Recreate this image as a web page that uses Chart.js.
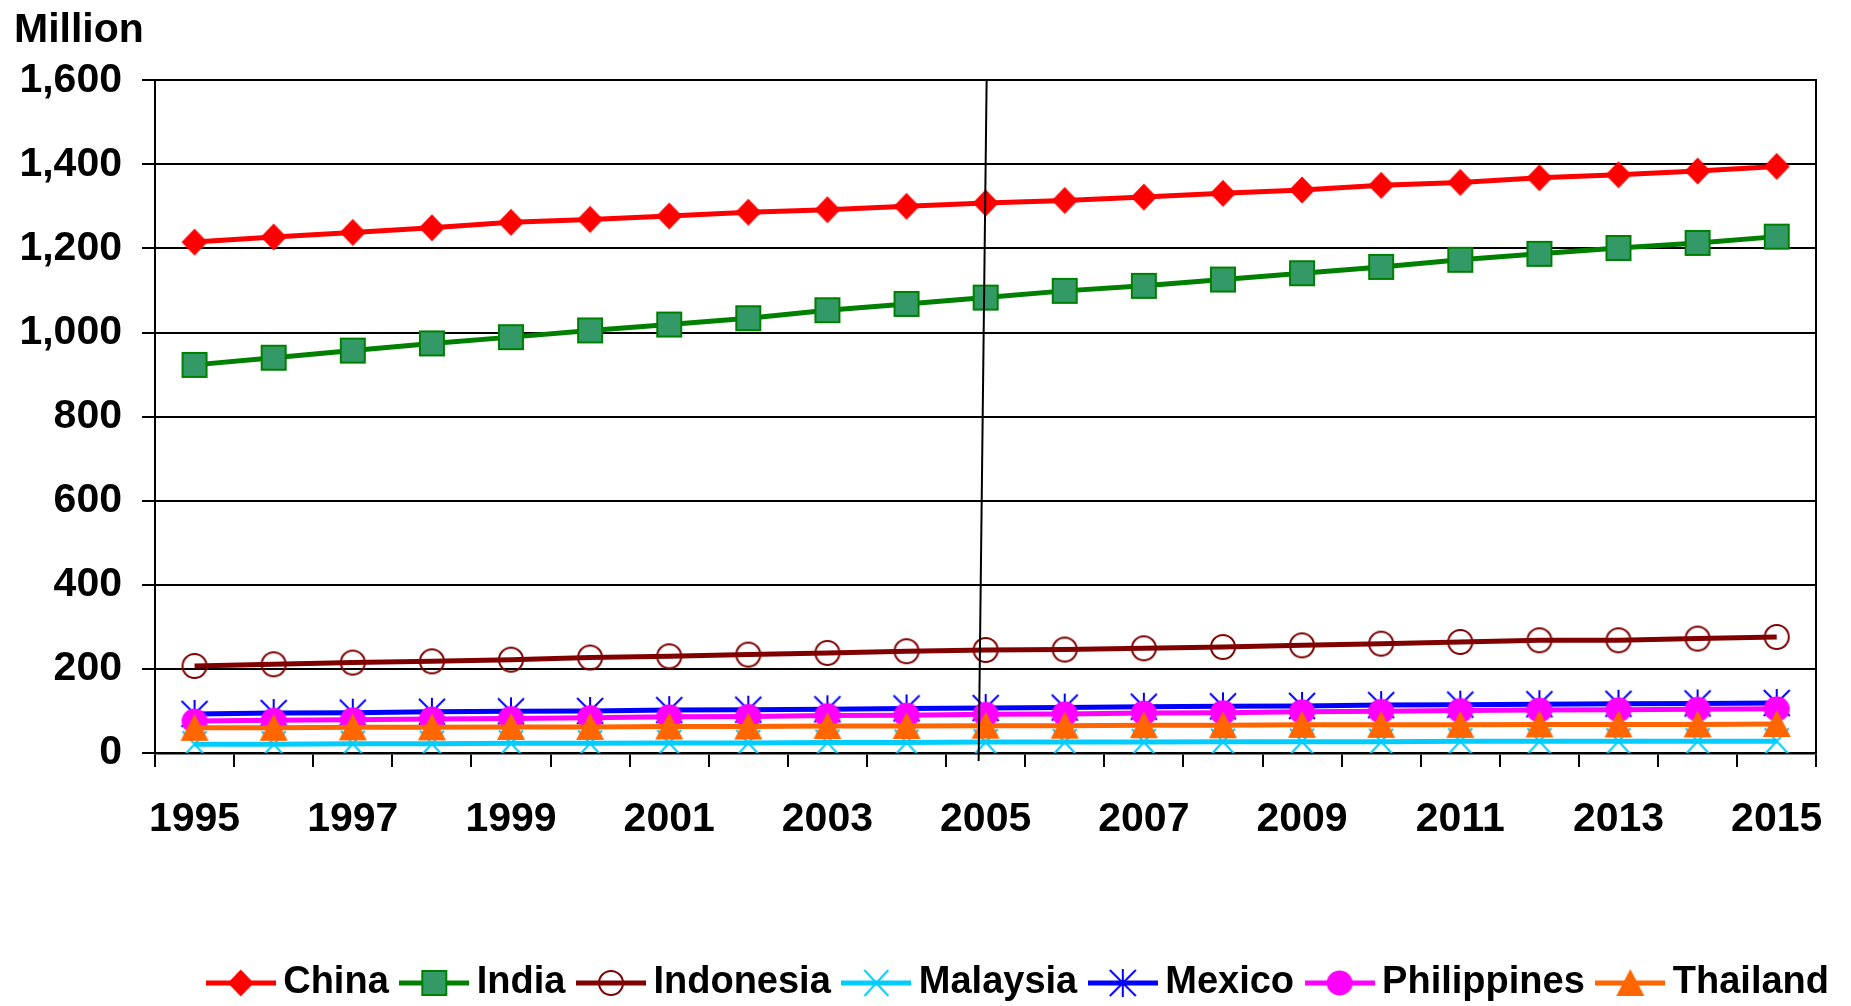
<!DOCTYPE html>
<html lang="en">
<head>
<meta charset="UTF-8">
<title>Population 1995-2015</title>
<script src="https://cdn.jsdelivr.net/npm/chart.js"></script>
<style>
  html, body { margin: 0; padding: 0; background: #fff; }
</style>
</head>
<body>
<canvas id="popChart" width="1851" height="1006"></canvas>
<script>
const years = ['1995', '1996', '1997', '1998', '1999', '2000', '2001', '2002', '2003', '2004', '2005',
               '2006', '2007', '2008', '2009', '2010', '2011', '2012', '2013', '2014', '2015'];
const china = [1215, 1227, 1238, 1249, 1262, 1269, 1277, 1286, 1292, 1300, 1308, 1314, 1322, 1331, 1339, 1350, 1357, 1368, 1375, 1384, 1395];
const india = [923, 940, 957, 974, 989, 1005, 1019, 1034, 1053, 1068, 1083, 1099, 1111, 1126, 1141, 1156, 1173, 1187, 1201, 1213, 1228];
const indonesia = [207, 211, 215, 218, 222, 227, 230, 234, 238, 242, 245, 246, 249, 252, 256, 260, 264, 268, 268, 272, 276];
const malaysia = [21, 21, 22, 22, 23, 23, 24, 24, 25, 25, 26, 26, 26, 27, 27, 27, 28, 28, 28, 28, 28];
const mexico = [93, 95, 96, 98, 99, 100, 102, 103, 104, 106, 107, 108, 110, 111, 112, 114, 115, 116, 117, 118, 119];
const philippines = [76, 78, 79, 81, 82, 84, 86, 87, 89, 90, 92, 93, 95, 96, 98, 99, 101, 102, 103, 104, 105];
const thailand = [60, 60, 61, 61, 62, 62, 63, 63, 64, 64, 65, 65, 66, 66, 67, 67, 67, 68, 68, 68, 69];
const yTicks = [0, 200, 400, 600, 800, 1000, 1200, 1400, 1600];
const markYear = '2005';

// one entry per series: name, values, line colour, marker shape, marker stroke, marker fill
const series = [
    ['China', china, '#ff0000', 'diamond', '#ff0000', '#ff0000'],
    ['India', india, '#008000', 'square', '#008000', '#339966'],
    ['Indonesia', indonesia, '#800000', 'ring', '#800000', 'rgba(0,0,0,0)'],
    ['Malaysia', malaysia, '#00ccff', 'x', '#00ccff', '#00ccff'],
    ['Mexico', mexico, '#0000ff', 'star', '#0000ff', '#0000ff'],
    ['Philippines', philippines, '#ff00ff', 'dot', '#ff00ff', '#ff00ff'],
    ['Thailand', thailand, '#ff6600', 'triangle', '#ff6600', '#ff6600']
];

function drawShape(g, shape, cx, cy, stroke, fill) {
    g.lineWidth = 2;
    g.strokeStyle = stroke;
    g.fillStyle = fill;
    g.beginPath();
    if (shape === 'diamond') {
        g.moveTo(cx, cy - 13.5); g.lineTo(cx + 13, cy); g.lineTo(cx, cy + 13.5); g.lineTo(cx - 13, cy);
        g.closePath(); g.fill();
    } else if (shape === 'square') {
        g.rect(cx - 12, cy - 12, 24, 24); g.fill();
        g.lineWidth = 2; g.stroke();
    } else if (shape === 'ring') {
        g.arc(cx, cy, 12, 0, Math.PI * 2); g.stroke();
    } else if (shape === 'x') {
        g.moveTo(cx - 12, cy - 13); g.lineTo(cx + 12, cy + 13);
        g.moveTo(cx + 12, cy - 13); g.lineTo(cx - 12, cy + 13); g.stroke();
    } else if (shape === 'star') {
        g.moveTo(cx, cy - 14); g.lineTo(cx, cy + 14);
        g.moveTo(cx - 13, cy - 13); g.lineTo(cx + 13, cy + 13);
        g.moveTo(cx + 13, cy - 13); g.lineTo(cx - 13, cy + 13); g.stroke();
    } else if (shape === 'dot') {
        g.ellipse(cx, cy, 13, 12.5, 0, 0, Math.PI * 2); g.fill();
    } else if (shape === 'triangle') {
        g.moveTo(cx, cy - 14); g.lineTo(cx + 14, cy + 13); g.lineTo(cx - 14, cy + 13);
        g.closePath(); g.fill();
    }
}

function makeMarker(s) {
    const c = document.createElement('canvas');
    c.width = 34; c.height = 34;
    drawShape(c.getContext('2d'), s[3], 17, 17, s[4], s[5]);
    return c;
}

// legend sample: short line with the marker on it
const legendBox = 47, legendOver = 11.5;
function makeLegendIcon(s) {
    const c = document.createElement('canvas');
    c.width = legendBox + legendOver * 2; c.height = 34;
    const g = c.getContext('2d');
    g.strokeStyle = s[2];
    g.lineWidth = 5;
    g.beginPath(); g.moveTo(0, 17); g.lineTo(c.width, 17); g.stroke();
    drawShape(g, s[3], c.width / 2, 17, s[4], s[5]);
    return c;
}
const legendIcons = series.map(makeLegendIcon);

const datasets = series.map((s, i) => ({
    label: s[0],
    data: s[1],
    borderColor: s[2],
    backgroundColor: s[2],
    borderWidth: 5,
    pointStyle: makeMarker(s),
    pointRadius: 13,
    pointHoverRadius: 13,
    tension: 0,
    order: series.length - i
}));

const markerLine = {
    id: 'markerLine',
    afterDatasetsDraw(chart) {
        const { ctx, chartArea, scales } = chart;
        const px = scales.x.getPixelForValue(years.indexOf(markYear));
        ctx.save();
        ctx.strokeStyle = '#000';
        ctx.lineWidth = 2;
        ctx.beginPath();
        ctx.moveTo(px + 1, chartArea.top);
        ctx.lineTo(px - 7, chartArea.bottom + 8);
        ctx.stroke();
        ctx.restore();
    }
};

const fontFamily = '"Liberation Sans", Arial, sans-serif';
const font = { family: fontFamily, weight: 'bold', size: 41 };

new Chart(document.getElementById('popChart'), {
    type: 'line',
    data: { labels: years, datasets: datasets },
    plugins: [markerLine],
    options: {
        responsive: false,
        animation: false,
        events: [],
        layout: { padding: { left: 14, right: 0, top: 0, bottom: 0 } },
        plugins: {
            tooltip: { enabled: false },
            title: {
                display: true,
                text: 'Million',
                align: 'start',
                color: '#000',
                font: font,
                padding: { top: 6, bottom: 25 }
            },
            legend: {
                position: 'bottom',
                align: 'end',
                maxHeight: 64,
                labels: {
                    color: '#000',
                    font: { family: fontFamily, weight: 'bold', size: 38 },
                    usePointStyle: true,
                    pointStyleWidth: legendBox,
                    padding: 22,
                    generateLabels(chart) {
                        const items = Chart.defaults.plugins.legend.labels.generateLabels(chart);
                        items.sort((a, b) => a.datasetIndex - b.datasetIndex);
                        items.forEach(it => { it.pointStyle = legendIcons[it.datasetIndex]; });
                        return items;
                    }
                }
            }
        },
        scales: {
            x: {
                offset: true,
                grid: { drawOnChartArea: false, offset: true, color: '#000', lineWidth: 2, tickLength: 14 },
                border: { color: '#000', width: 2.5 },
                ticks: {
                    color: '#000',
                    font: font,
                    padding: 28,
                    autoSkip: false,
                    maxRotation: 0,
                    callback: (v, i) => (i % 2 === 0 ? years[i] : '')
                },
                afterFit(scale) { scale.height = 189; }
            },
            y: {
                min: yTicks[0],
                max: yTicks[yTicks.length - 1],
                afterBuildTicks(scale) { scale.ticks = yTicks.map(v => ({ value: v })); },
                grid: { color: '#000', lineWidth: 2, tickLength: 13 },
                border: { color: '#000', width: 2 },
                ticks: {
                    color: '#000',
                    font: font,
                    padding: 20,
                    callback: v => v.toLocaleString('en-US')
                },
                afterFit(scale) { scale.width = 141; }
            },
            y2: {
                position: 'right',
                min: 0,
                max: 1600,
                grid: { drawOnChartArea: false, drawTicks: false },
                border: { color: '#000', width: 2 },
                ticks: { display: false },
                afterFit(scale) { scale.width = 29; }
            }
        }
    }
});
</script>
</body>
</html>
